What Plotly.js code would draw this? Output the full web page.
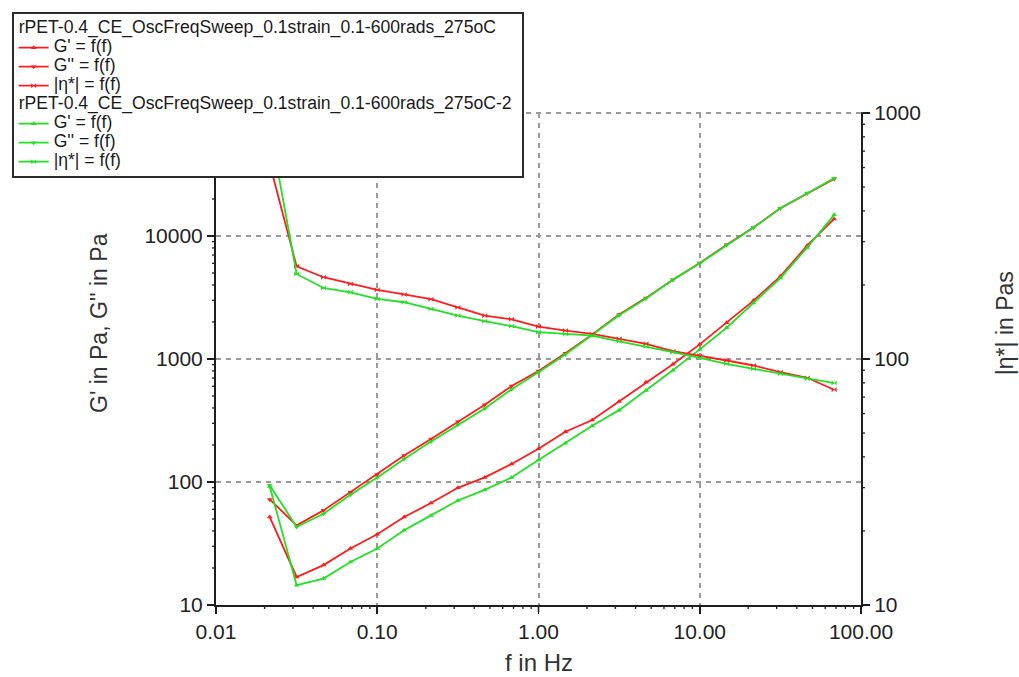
<!DOCTYPE html>
<html>
<head>
<meta charset="utf-8">
<script src="https://cdn.plot.ly/plotly-3.0.1.min.js"></script>
<style>
  html, body { margin: 0; padding: 0; background: #ffffff; }
  #chart { width: 1019px; height: 677px; }
</style>
</head>
<body>
<div id="chart"></div>
<script>
// Oscillatory frequency sweep, rPET-0.4 CE, 0.1 strain, 275 °C (two runs)
const freqHz = [0.02154, 0.03162, 0.04642, 0.06813, 0.1, 0.1468, 0.2154, 0.3162, 0.4642, 0.6813,
                1.0, 1.468, 2.154, 3.162, 4.642, 6.813, 10.0, 14.68, 21.54, 31.62, 46.42, 68.13];

// run 1 (red)
const run1StorageG = [51.9, 16.9, 21.1, 28.8, 37.6, 51.9, 67.4, 89.7, 109, 140,
                      186, 256, 319, 451, 648, 906, 1315, 1968, 2985, 4700, 8375, 13770];
const run1LossG    = [72.2, 44.4, 58.8, 82.7, 115, 164, 224, 309, 424, 604,
                      800, 1112, 1585, 2301, 3140, 4418, 6026, 8488, 11720, 16800, 22220, 29040];
const run1Eta      = [620, 238, 215, 202, 191, 183, 175, 162, 150, 145,
                      135.5, 130.5, 126.5, 120.8, 115.3, 107.6, 103.3, 98.6, 94.1, 88.4, 83.9, 75.0];

// run 2 (green)
const run2StorageG = [92, 14.5, 16.4, 22.4, 28.8, 40.5, 53.5, 70.8, 86.4, 109,
                      151, 207, 287, 384, 555, 810, 1197, 1794, 2858, 4550, 8070, 14860];
const run2LossG    = [94, 43.1, 55.2, 78.7, 109, 154, 213, 292, 396, 568,
                      780, 1090, 1560, 2270, 3110, 4400, 6000, 8450, 11700, 16800, 22400, 29500];
const run2Eta      = [880, 221.6, 194.5, 186.6, 175.4, 170.1, 159.8, 150.2, 142.4, 135.9,
                      128.5, 126.5, 124.5, 118, 112.4, 106.6, 101.1, 95.6, 91.2, 87.1, 83.1, 79.8];

const run1Name = 'rPET-0.4_CE_OscFreqSweep_0.1strain_0.1-600rads_275oC';
const run2Name = 'rPET-0.4_CE_OscFreqSweep_0.1strain_0.1-600rads_275oC-2';
const seriesLabels = ["G' = f(f)", "G'' = f(f)", '|η*| = f(f)'];

// axis ranges (log10 units), tick values and their labels
const freqRange = [-2, 2];
const modulusRange = [1, 5];
const etaRange = [1, 3];
const freqTicks = [0.01, 0.1, 1, 10, 100];
const freqTickText = ['0.01', '0.10', '1.00', '10.00', '100.00'];
const modulusTicks = [10, 100, 1000, 10000, 100000];
const modulusTickText = ['10', '100', '1000', '10000', ''];
const etaTicks = [10, 100, 1000];
const etaTickText = ['10', '100', '1000'];

const RED = '#ff1c1c';
const GREEN = '#22e022';
const LEG_PX = 17.6;
const AXIS_COLOR = '#1e1e1e';

// 2..9 sub-ticks inside each decade of a log axis
function subTicks(range) {
  const out = [];
  for (let d = range[0]; d < range[1]; d++) {
    for (let m = 2; m <= 9; m++) out.push(m * Math.pow(10, d));
  }
  return out;
}

function big(t) { return '<span style="font-size:' + LEG_PX + 'px">' + t + '</span>'; }

function series(x, y, name, color, symbol, group, groupTitle, axis) {
  const tr = {
    type: 'scatter', mode: 'lines+markers',
    x: x, y: y, name: big(name),
    line: { color: color, width: 1.8 },
    marker: { color: color, size: 5, symbol: symbol },
    legendgroup: group,
    yaxis: axis,
    hoverinfo: 'x+y+name'
  };
  if (groupTitle) {
    tr.legendgrouptitle = { text: big(groupTitle), font: { size: 12, color: '#1a1a1a', family: 'Liberation Sans' } };
  }
  return tr;
}

const traces = [
  series(freqHz, run1StorageG, seriesLabels[0], RED, 'triangle-up', 'run1', run1Name, 'y'),
  series(freqHz, run1LossG, seriesLabels[1], RED, 'triangle-down', 'run1', null, 'y'),
  series(freqHz, run1Eta, seriesLabels[2], RED, 'bowtie', 'run1', null, 'y2'),
  series(freqHz, run2StorageG, seriesLabels[0], GREEN, 'triangle-up', 'run2', run2Name, 'y'),
  series(freqHz, run2LossG, seriesLabels[1], GREEN, 'triangle-down', 'run2', null, 'y'),
  series(freqHz, run2Eta, seriesLabels[2], GREEN, 'bowtie', 'run2', null, 'y2')
];

// tick marks drawn as short pixel-length strokes hanging off the axis lines
function frac(v, range) { return (Math.log10(v) - range[0]) / (range[1] - range[0]); }
function xTickMarks(vals, len, width) {
  return vals.map(v => ({
    type: 'line', xref: 'paper', x0: frac(v, freqRange), x1: frac(v, freqRange),
    yref: 'paper', ysizemode: 'pixel', yanchor: 0, y0: 0, y1: -len,
    line: { color: AXIS_COLOR, width: width }, layer: 'above'
  }));
}
function yTickMarks(vals, range, side, len, width) {
  const dir = side === 'left' ? -1 : 1;
  return vals.map(v => ({
    type: 'line', yref: 'paper', y0: frac(v, range), y1: frac(v, range),
    xref: 'paper', xsizemode: 'pixel', xanchor: side === 'left' ? 0 : 1, x0: 0, x1: dir * len,
    line: { color: AXIS_COLOR, width: width }, layer: 'above'
  }));
}

const tickFont = { family: 'Liberation Sans', size: 21, color: '#222222' };
const titleFont = { family: 'Liberation Sans', size: 23, color: '#333333' };
const GRID_COLOR = '#9a9a9a';
const GRID_DASH = '5px,5px';
const gridStyle = { showgrid: true, gridcolor: GRID_COLOR, gridwidth: 2, griddash: GRID_DASH };
const axisTicks = { ticks: 'outside', ticklen: 7, tickwidth: 1.6, tickcolor: AXIS_COLOR };

const layout = {
  width: 1019, height: 677,
  margin: { l: 214, r: 158, t: 112, b: 72, pad: 0 },
  paper_bgcolor: '#ffffff', plot_bgcolor: '#ffffff',
  font: { family: 'Liberation Sans', color: '#222222' },
  showlegend: true,
  legend: {
    x: -0.3168, y: 1.2049, xanchor: 'left', yanchor: 'top',
    bgcolor: '#ffffff', bordercolor: '#2a2a2a', borderwidth: 2,
    font: { family: 'Liberation Sans', size: 12, color: '#1a1a1a' },
    traceorder: 'grouped', tracegroupgap: 0, itemwidth: 30
  },
  xaxis: Object.assign({
    type: 'log', range: freqRange, tickmode: 'array', tickvals: freqTicks, ticktext: freqTickText,
    showline: true, linecolor: AXIS_COLOR, linewidth: 2,
    tickfont: tickFont, zeroline: false
  }, axisTicks, gridStyle),
  yaxis: Object.assign({
    type: 'log', range: modulusRange, tickmode: 'array', tickvals: modulusTicks, ticktext: modulusTickText,
    showline: true, linecolor: AXIS_COLOR, linewidth: 2,
    tickfont: tickFont, zeroline: false
  }, axisTicks, gridStyle),
  yaxis2: Object.assign({
    type: 'log', range: etaRange, tickmode: 'array', tickvals: etaTicks, ticktext: etaTickText,
    overlaying: 'y', side: 'right',
    showline: true, linecolor: AXIS_COLOR, linewidth: 2,
    tickfont: tickFont, zeroline: false, showgrid: false
  }, axisTicks),
  shapes: [
    // dashed frame line along the top of the plotting area
    { type: 'line', xref: 'paper', yref: 'paper', x0: 0, x1: 1, y0: 1, y1: 1,
      line: { color: GRID_COLOR, width: 2, dash: GRID_DASH }, layer: 'below' }
  ].concat(
    xTickMarks(freqTicks, 7, 1.6),
    xTickMarks(subTicks(freqRange), 4, 1.3),
    yTickMarks(modulusTicks, modulusRange, 'left', 7, 1.6),
    yTickMarks(subTicks(modulusRange), modulusRange, 'left', 4, 1.3),
    yTickMarks(etaTicks, etaRange, 'right', 7, 1.6),
    yTickMarks(subTicks(etaRange), etaRange, 'right', 4, 1.3)
  ),
  annotations: [
    { text: "G' in Pa, G'' in Pa", xref: 'paper', yref: 'paper', x: -0.1824, y: 0.574,
      textangle: -90, showarrow: false, font: titleFont, xanchor: 'center', yanchor: 'middle' },
    { text: '|η*| in Pas', xref: 'paper', yref: 'paper', x: 1.2226, y: 0.572,
      textangle: -90, showarrow: false, font: titleFont, xanchor: 'center', yanchor: 'middle' },
    { text: 'f in Hz', xref: 'paper', yref: 'paper', x: 0.5, y: -0.1176,
      showarrow: false, font: { family: 'Liberation Sans', size: 24, color: '#333333' },
      xanchor: 'center', yanchor: 'middle' }
  ]
};

Plotly.newPlot('chart', traces, layout, { displayModeBar: false, staticPlot: true });
</script>
</body>
</html>
